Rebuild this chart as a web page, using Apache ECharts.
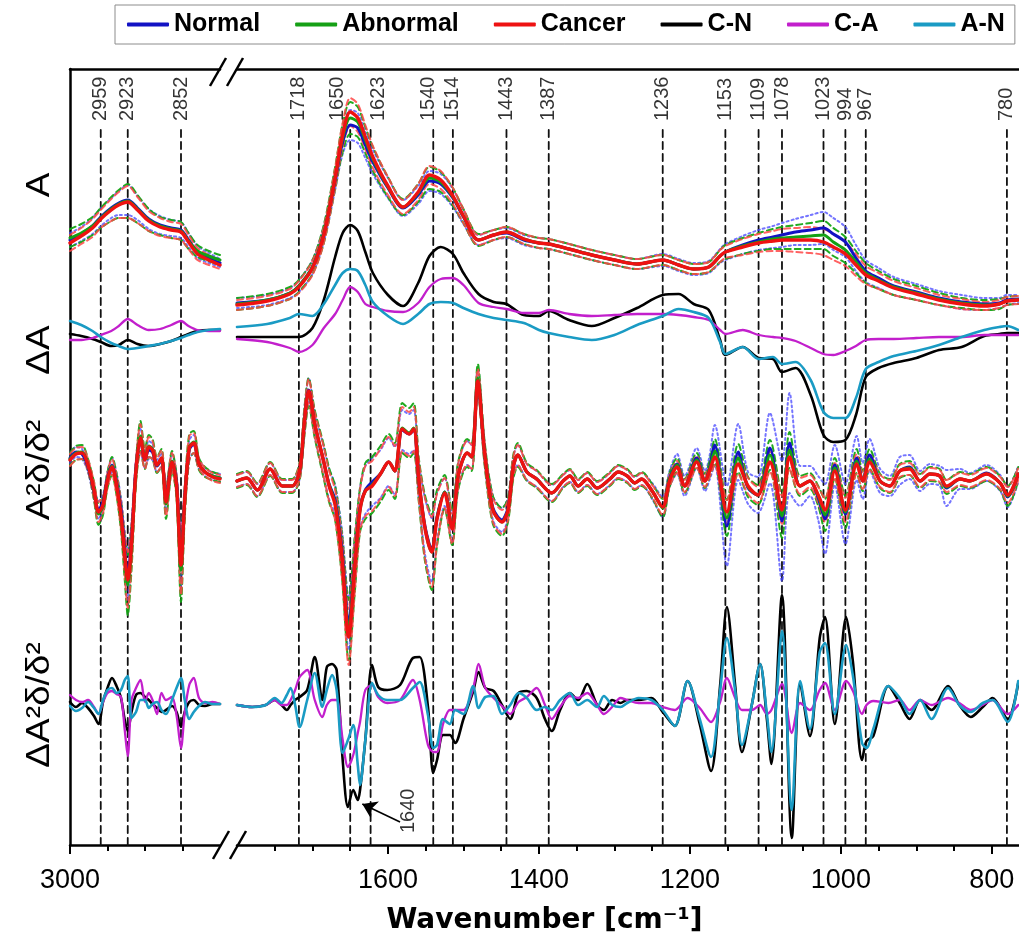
<!DOCTYPE html>
<html><head><meta charset="utf-8">
<script src="https://cdn.jsdelivr.net/npm/echarts@6/dist/echarts.min.js"></script>
<style>html,body{margin:0;padding:0;background:#fff}#c{width:1019px;height:942px}</style>
</head><body><div id="c"></div>
<script>
// ---------------- DATA (arbitrary intensity units, each panel relative to its own baseline) ----------------
const SERIES_NAMES = ['Normal', 'Abnormal', 'Cancer', 'C-N', 'C-A', 'A-N'];
const X_TICKS_LEFT = [3000];
const X_TICKS_RIGHT = [1600, 1400, 1200, 1000, 800];
const PEAKS_LEFT = [2959, 2923, 2852];
const PEAKS_RIGHT = [1718, 1650, 1623, 1540, 1514, 1443, 1387, 1236, 1153, 1109, 1078, 1023, 994, 967, 780];
const ANNOT_1640 = { label: 1640, textAt: [1573, -128], arrowFrom: [1584, -117], arrowTo: [1634, -99] }; // in ΔA²δ/δ² panel units

// Panel offsets (stacking of the four panels)
const OFFSET = { A: 545, dA: 505, D2: 375, dD2: 140 };

// ---- Absorbance (A) & difference (ΔA), high-wavenumber segment
const WN_A_LEFT = [3000, 2985, 2970, 2959, 2945, 2935, 2923, 2910, 2895, 2880, 2865, 2852, 2842, 2830, 2815, 2800];
const A_NORMAL_L   = [60, 66, 74, 83, 92, 97, 100, 92, 81, 75, 72, 70, 60, 48, 42, 37];
const A_ABNORMAL_L = [62, 67, 74, 82, 91, 96, 99, 91, 80, 74, 71, 69, 59, 49, 44, 40];
const A_CANCER_L   = [57, 64, 72, 81, 90, 95, 98, 90, 79, 73, 70, 68, 58, 46, 40, 35];
const SD_A_NORMAL_L   = [7, 7, 8, 9, 10, 12, 15, 12, 10, 9, 8, 8, 7, 6, 5, 4];
const SD_A_ABNORMAL_L = [9, 9, 9, 10, 12, 14, 17, 14, 11, 9, 9, 9, 8, 6, 5, 5];
const SD_A_CANCER_L   = [8, 8, 9, 9, 11, 13, 16, 13, 10, 9, 8, 8, 7, 6, 5, 4];
const DA_CN_L = [6, 4, 1, -2, -6, -5, 0, -4, -6, -4, -1, 3, 6, 9, 10, 10];
const DA_CA_L = [0, 0, 2, 5, 9, 14, 21, 15, 10, 11, 15, 19, 14, 10, 9, 9];
const DA_AN_L = [19, 15, 9, 3, -3, -6, -9, -8, -6, -4, -1, 2, 5, 8, 10, 11];

// ---- Absorbance (A) & difference (ΔA), fingerprint segment
const WN_A_RIGHT = [1800, 1760, 1730, 1718, 1700, 1685, 1670, 1660, 1650, 1640, 1630, 1620, 1600, 1580, 1560, 1545, 1530, 1514, 1500, 1480, 1460, 1443, 1420, 1400, 1387, 1360, 1330, 1300, 1270, 1236, 1215, 1195, 1175, 1160, 1153, 1130, 1109, 1090, 1078, 1060, 1040, 1023, 1010, 994, 980, 967, 950, 930, 900, 870, 840, 810, 790, 780, 765];
const A_NORMAL_R   = [-3, 0, 7, 14, 33, 66, 120, 158, 175, 172, 155, 138, 112, 92, 105, 119, 116, 102, 83, 60, 65, 67, 60, 57, 56, 51, 45, 40, 36, 40, 35, 31, 33, 44, 48, 55, 60, 63, 65, 68, 70, 72, 66, 58, 42, 29, 22, 14, 8, 2, -2, -4, -3, 0, 1];
const A_ABNORMAL_R = [-4, 0, 7, 14, 33, 66, 122, 162, 182, 178, 160, 141, 113, 93, 107, 122, 118, 103, 84, 60, 65, 68, 61, 57, 56, 51, 45, 40, 36, 40, 35, 31, 33, 44, 48, 54, 58, 61, 62, 63, 64, 65, 58, 50, 38, 27, 20, 13, 7, 1, -3, -5, -4, -1, 0];
const A_CANCER_R   = [-5, -1, 6, 13, 32, 65, 122, 165, 188, 182, 163, 143, 114, 93, 108, 125, 120, 104, 84, 60, 65, 68, 61, 57, 56, 51, 45, 40, 36, 40, 35, 31, 33, 44, 48, 53, 57, 59, 60, 60, 60, 58, 53, 46, 35, 25, 19, 12, 6, 0, -4, -6, -4, -1, 0];
const SD_A_NORMAL_R   = [5, 5, 5, 6, 7, 8, 10, 12, 15, 15, 13, 12, 10, 8, 9, 10, 10, 9, 7, 5, 5, 5, 5, 5, 5, 5, 5, 5, 5, 6, 6, 6, 6, 7, 8, 9, 10, 11, 12, 13, 15, 16, 16, 15, 13, 11, 10, 9, 8, 7, 7, 6, 5, 5, 4];
const SD_A_ABNORMAL_R = [6, 6, 6, 6, 7, 9, 11, 14, 16, 15, 13, 12, 10, 8, 9, 11, 10, 9, 7, 6, 5, 5, 5, 5, 5, 5, 5, 5, 5, 5, 5, 5, 5, 6, 7, 8, 9, 10, 11, 12, 13, 14, 14, 13, 11, 10, 9, 8, 7, 6, 5, 5, 5, 4, 4];
const SD_A_CANCER_R   = [5, 5, 5, 6, 7, 8, 10, 12, 14, 14, 12, 11, 9, 7, 8, 9, 9, 8, 7, 5, 5, 5, 5, 5, 5, 5, 5, 5, 5, 5, 5, 5, 5, 6, 6, 8, 9, 10, 11, 12, 13, 13, 13, 12, 11, 9, 8, 7, 6, 5, 5, 4, 4, 4, 4];
const DA_CN_R = [3, 3, 3, 3, 12, 40, 83, 107, 115, 109, 88, 67, 45, 34, 57, 84, 93, 86, 67, 46, 38, 36, 25, 24, 29, 20, 14, 22, 32, 45, 46, 36, 30, 0, -15, -7, -18, -19, -32, -28, -55, -95, -102, -100, -75, -37, -28, -23, -18, -10, -7, 4, 6, 7, 7];
const DA_CA_R = [1, -2, -8, -12, -5, 12, 26, 40, 53, 48, 36, 33, 29, 28, 37, 53, 61, 62, 55, 37, 33, 31, 27, 27, 30, 26, 24, 25, 26, 26, 25, 23, 20, 10, 6, 10, 5, 3, 2, -1, -8, -14, -15, -11, -6, 0, 1, 1, 2, 3, 3, 5, 5, 5, 5];
const DA_AN_R = [13, 16, 22, 26, 24, 36, 55, 67, 71, 69, 55, 38, 24, 16, 26, 36, 38, 37, 32, 26, 22, 20, 17, 10, 7, 3, 0, 5, 15, 24, 31, 28, 22, -2, -14, -7, -19, -17, -24, -22, -40, -72, -78, -78, -58, -29, -22, -16, -11, -5, 3, 10, 13, 14, 10];

// ---- Second derivative (A²δ/δ²) & its differences, high-wavenumber segment
const WN_D2_LEFT = [3000, 2992, 2984, 2976, 2968, 2962, 2956, 2950, 2944, 2938, 2932, 2927, 2923, 2918, 2912, 2906, 2900, 2895, 2890, 2884, 2878, 2872, 2864, 2858, 2852, 2847, 2841, 2835, 2828, 2820, 2810, 2800];
const D2_NORMAL_L   = [12, 18, 16, 3, -22, -40, -32, -8, 5, -12, -40, -80, -105, -70, 2, 30, 10, 20, 18, 4, 10, -28, 8, -12, -90, -28, 20, 26, 6, -2, -6, -8];
const D2_ABNORMAL_L = [11, 17, 18, 5, -21, -44, -36, -10, 4, -14, -46, -88, -115, -78, -2, 34, 11, 24, 21, 5, 12, -34, 9, -16, -100, -32, 23, 28, 6, -2, -6, -8];
const D2_CANCER_L   = [10, 16, 17, 5, -20, -42, -35, -10, 3, -15, -45, -85, -110, -75, 0, 32, 10, 23, 20, 5, 12, -32, 8, -15, -95, -30, 22, 27, 6, -2, -7, -9];
const SD_D2_NORMAL_L   = [5, 5, 5, 5, 7, 9, 7, 6, 7, 9, 12, 18, 25, 18, 9, 12, 8, 9, 8, 6, 7, 12, 8, 9, 27, 12, 10, 9, 5, 4, 4, 4];
const SD_D2_ABNORMAL_L = [6, 7, 7, 6, 9, 11, 9, 8, 9, 11, 15, 22, 30, 22, 11, 15, 10, 11, 10, 8, 9, 15, 10, 11, 32, 15, 13, 11, 6, 5, 4, 4];
const SD_D2_CANCER_L   = [6, 6, 6, 6, 8, 10, 8, 7, 8, 10, 14, 20, 28, 20, 10, 14, 9, 10, 9, 7, 8, 14, 9, 10, 30, 14, 12, 10, 5, 4, 4, 4];
const DD2_CN_L = [3, -2, 2, -3, -11, -19, 3, 17, 27, 19, 7, -15, -26, -7, 10, 12, 8, 5, 1, -3, -7, -5, -1, -7, -22, -7, 3, 5, 0, -1, 1, 1];
const DD2_CA_L = [10, 5, 3, 5, -2, -9, 3, 12, 14, 11, 8, -25, -51, 5, 17, 25, 3, 12, 5, -9, 12, 5, 8, -10, -43, -7, 20, 27, 7, 2, 3, 1];
const DD2_AN_L = [-1, -6, -3, 3, -3, -9, 5, 15, 17, 12, 15, 25, 29, -13, -7, 5, 5, -3, 1, 3, -5, -9, 5, 17, 27, 5, -14, -7, -1, 3, 1, 1];

// ---- Second derivative (A²δ/δ²), fingerprint segment
const WN_D2_RIGHT = [1800, 1787, 1773, 1756, 1740, 1727, 1717, 1711, 1705, 1697,
  1685, 1678, 1670, 1661, 1652, 1644, 1637, 1630, 1621, 1610,
  1599, 1591, 1581, 1572, 1566, 1559, 1551, 1542, 1535, 1525,
  1515, 1507, 1495, 1489, 1481, 1472, 1461, 1449, 1441, 1434,
  1428, 1416, 1403, 1383, 1368, 1359, 1348, 1336, 1323, 1306,
  1295, 1283, 1273, 1264, 1250, 1236, 1227, 1217, 1207, 1191,
  1180, 1174, 1167, 1151, 1136, 1123, 1110, 1094, 1078, 1068,
  1054, 1041, 1030, 1021, 1008, 994, 979, 971, 962, 948,
  935, 922, 909, 895, 882, 869, 860, 842, 829, 807,
  789, 779, 765];
const D2_NORMAL_R = [-11, -8, -20, 1, -16, -16, -1, 46, 80, 46,
  8, -14, -30, -80, -154, -92, -38, -20, -12, -4,
  8, -1, 40, 36, 40, -11, -56, -80, -47, -22,
  -57, -6, 17, 13, 90, 17, -38, -50, -38, 3,
  15, -2, -9, -23, -11, -6, -16, -9, -18, -9,
  -2, -6, -13, -9, -21, -37, -9, 6, -16, 12,
  -11, 2, 25, -56, 18, -18, -25, 22, -51, 27,
  -16, -11, -28, -49, 5, -44, 12, -11, 15, -11,
  -16, -1, 3, -11, -4, -6, -18, -9, -11, -3,
  -13, -27, -4];
const D2_ABNORMAL_R = [-11, -8, -20, 1, -16, -16, -1, 46, 78, 46,
  8, -15, -33, -85, -160, -95, -40, -21, -15, -4,
  8, -1, 42, 37, 42, -11, -58, -82, -48, -22,
  -58, -6, 17, 13, 92, 17, -40, -52, -40, 3,
  15, -2, -9, -23, -11, -6, -16, -9, -18, -9,
  -2, -6, -13, -9, -21, -38, -10, 5, -16, 10,
  -11, 1, 19, -48, 12, -17, -25, 15, -46, 20,
  -16, -11, -26, -45, 2, -42, 9, -11, 11, -11,
  -16, -1, 2, -11, -4, -6, -17, -9, -11, -4,
  -13, -26, -4];
const D2_CANCER_R = [-11, -8, -20, 1, -16, -16, -1, 46, 79, 46,
  8, -16, -35, -87, -167, -97, -40, -21, -16, -4,
  8, -1, 41, 36, 41, -11, -58, -82, -49, -23,
  -59, -6, 17, 13, 89, 17, -40, -52, -40, 3,
  15, -2, -9, -23, -11, -6, -16, -9, -18, -9,
  -2, -6, -13, -9, -21, -37, -11, 3, -16, 8,
  -11, -1, 13, -42, 6, -16, -25, 8, -40, 13,
  -16, -11, -25, -40, -1, -40, 6, -11, 8, -11,
  -16, -1, 1, -11, -4, -6, -16, -9, -11, -4,
  -13, -25, -4];
const SD_D2_NORMAL_R = [6, 6, 6, 6, 6, 6, 8, 12, 12, 12,
  15, 15, 15, 20, 26, 24, 20, 24, 24, 24,
  24, 24, 20, 20, 20, 18, 28, 32, 24, 14,
  14, 12, 12, 12, 12, 10, 12, 12, 10, 10,
  10, 8, 8, 8, 6, 6, 6, 6, 6, 6,
  6, 6, 6, 6, 8, 10, 8, 10, 10, 10,
  10, 12, 20, 40, 28, 16, 18, 35, 60, 50,
  20, 15, 22, 35, 20, 30, 22, 18, 16, 12,
  10, 14, 12, 10, 10, 10, 18, 10, 8, 8,
  8, 10, 8];
const SD_D2_ABNORMAL_R = [7, 7, 7, 7, 7, 7, 9, 14, 14, 14,
  17, 17, 17, 22, 30, 28, 22, 28, 28, 28,
  28, 28, 25, 25, 25, 22, 33, 38, 28, 17,
  17, 14, 14, 14, 14, 12, 14, 14, 12, 12,
  12, 9, 9, 9, 7, 7, 7, 7, 7, 7,
  7, 7, 7, 7, 7, 9, 7, 7, 7, 7,
  7, 8, 12, 18, 14, 10, 10, 15, 22, 18,
  10, 8, 10, 16, 10, 16, 12, 10, 10, 7,
  7, 7, 7, 7, 7, 7, 7, 7, 7, 7,
  7, 10, 7];
const SD_D2_CANCER_R = [6, 6, 6, 6, 6, 6, 8, 12, 12, 12,
  15, 15, 15, 20, 28, 25, 20, 25, 25, 25,
  25, 25, 22, 22, 22, 20, 30, 35, 25, 15,
  15, 12, 12, 12, 12, 10, 12, 12, 10, 10,
  10, 8, 8, 8, 6, 6, 6, 6, 6, 6,
  6, 6, 6, 6, 6, 8, 6, 6, 6, 6,
  6, 6, 8, 12, 10, 8, 8, 10, 14, 12,
  8, 6, 8, 12, 8, 12, 10, 8, 8, 6,
  6, 6, 6, 6, 6, 6, 6, 6, 6, 6,
  6, 8, 6];

// ---- Differences of second derivative (ΔA²δ/δ²), fingerprint segment
const WN_DD2_RIGHT = [1800, 1780, 1762, 1750, 1741, 1734, 1729, 1723, 1717, 1707,
  1697, 1687, 1681, 1674, 1668, 1660, 1653, 1646, 1640, 1637,
  1630, 1621, 1613, 1601, 1584, 1567, 1558, 1547, 1540, 1535,
  1527, 1518, 1511, 1500, 1487, 1480, 1471, 1460, 1449, 1438,
  1427, 1416, 1403, 1392, 1383, 1372, 1359, 1348, 1336, 1323,
  1314, 1303, 1292, 1283, 1268, 1251, 1236, 1220, 1203, 1187,
  1172, 1160, 1151, 1140, 1131, 1118, 1107, 1098, 1092, 1078,
  1065, 1054, 1041, 1028, 1021, 1008, 993, 984, 972, 966,
  957, 937, 922, 909, 895, 880, 858, 843, 828, 812,
  799, 779, 765];
const DD2_CN_R = [0, -2, 0, 5, 0, -5, 0, 5, 8, 15,
  48, 5, 38, 41, 35, -55, -102, -85, -95, -85,
  -35, 40, 18, 15, 20, 47, 48, -2, -68, -55,
  -30, -30, -38, -14, 14, 33, 17, 14, 0, -14,
  12, 14, 7, -14, -26, -5, 12, 5, 21, 0,
  -5, 5, 2, 5, 5, 7, -7, -21, 24, -19,
  -66, 19, 98, 19, -47, 0, 41, -14, -59, 110,
  -133, 22, -31, 67, 88, -19, 88, 43, -55, -36,
  -31, 19, 2, -14, 5, -5, 19, 0, -12, -2,
  7, -14, 22];
const DD2_CA_R = [0, -2, 0, 5, 0, 0, 5, 15, 28, 35,
  5, -12, 0, 5, 5, -35, -62, -50, -28, -17,
  15, 20, 8, 2, 5, 25, 5, -40, -47, -47,
  -19, -5, -5, -5, 17, 41, 17, 7, -1, -9,
  3, 8, 17, 0, -14, -2, 9, 7, 12, 0,
  -9, -2, 7, 5, 2, 2, -2, -5, 7, -3,
  -17, 3, 27, 7, -5, -5, 0, -9, -5, 21,
  -28, 2, -5, 15, 22, -5, 24, 14, -9, 0,
  4, 2, 5, -5, 5, 0, 7, 2, -5, 0,
  5, -9, 0];
const DD2_AN_R = [0, -2, 0, 7, 2, 10, 17, 0, -22, 5,
  32, -2, 15, 30, 15, -48, -35, -20, -60, -80,
  -35, 22, 10, 5, 5, 17, 23, -10, -43, -40,
  -14, -19, -5, -9, 19, -3, 8, 9, -9, 0,
  12, 7, -5, -2, -5, 5, 12, 0, 5, -2,
  9, 0, -2, 2, 7, 5, -5, -21, 24, -14,
  -52, 14, 67, 14, -40, 0, 41, -9, -47, 74,
  -105, 24, -24, 53, 62, -9, 60, 29, -38, -43,
  -24, 19, 7, -9, 5, -14, 17, 0, -7, 2,
  5, -17, 24];

// ---------------- STYLE / LAYOUT ----------------
const FONT = '"Liberation Sans", Arial, Helvetica, sans-serif';
const COLORS = { 'Normal': '#1212c4', 'Abnormal': '#15a015', 'Cancer': '#ee1212', 'C-N': '#000000', 'C-A': '#c21fcc', 'A-N': '#1a9bc4' };
const BAND = {
  'Normal':   { color: 'rgba(70,70,255,0.75)', type: [2, 3] },
  'Abnormal': { color: 'rgba(20,165,20,0.95)', type: [6, 4] },
  'Cancer':   { color: 'rgba(255,70,70,0.85)', type: [6, 4] }
};
const LABEL_NUDGE = { 1650: -13, 1623: 8, 1540: -5 }; // horizontal nudges (px) of a few crowded peak labels
const Y_MAX = 776;        // plot height in value units
const LABEL_BASE = 724;   // bottom of rotated peak labels
const DASH_TOP = 719;     // top of dashed peak lines

const chart = echarts.init(document.getElementById('c'), null, { renderer: 'canvas' });

const pts = (wn, v, off) => wn.map((w, i) => [-w, v[i] + off]);
const band = (wn, v, sd, off, s) => wn.map((w, i) => [-w, v[i] + s * sd[i] + off]);

const series = [];
function line(name, data, seg, color, width, z, type, smooth) {
  series.push({
    name, type: 'line', xAxisIndex: seg === 'L' ? 0 : 3, yAxisIndex: seg === 'L' ? 0 : 1,
    data, smooth: smooth == null ? 0.3 : smooth, showSymbol: false, symbol: 'none', silent: true, z,
    lineStyle: { color, width, type: type || 'solid', cap: 'round', join: 'round' },
    itemStyle: { color }, emphasis: { disabled: true }, animation: false
  });
}

// SD bands (drawn first)
const groups = [
  ['Normal', A_NORMAL_L, SD_A_NORMAL_L, A_NORMAL_R, SD_A_NORMAL_R, D2_NORMAL_L, SD_D2_NORMAL_L, D2_NORMAL_R, SD_D2_NORMAL_R],
  ['Abnormal', A_ABNORMAL_L, SD_A_ABNORMAL_L, A_ABNORMAL_R, SD_A_ABNORMAL_R, D2_ABNORMAL_L, SD_D2_ABNORMAL_L, D2_ABNORMAL_R, SD_D2_ABNORMAL_R],
  ['Cancer', A_CANCER_L, SD_A_CANCER_L, A_CANCER_R, SD_A_CANCER_R, D2_CANCER_L, SD_D2_CANCER_L, D2_CANCER_R, SD_D2_CANCER_R]
];
groups.forEach(([g, aL, sdAL, aR, sdAR, dL, sdDL, dR, sdDR], gi) => {
  const b = BAND[g];
  [1, -1].forEach(s => {
    line(g + ' SD', band(WN_A_LEFT, aL, sdAL, OFFSET.A, s), 'L', b.color, 2, 2 + gi * 0.1, b.type);
    line(g + ' SD', band(WN_A_RIGHT, aR, sdAR, OFFSET.A, s), 'R', b.color, 2, 2 + gi * 0.1, b.type);
    line(g + ' SD', band(WN_D2_LEFT, dL, sdDL, OFFSET.D2, s), 'L', b.color, 2, 2 + gi * 0.1, b.type);
    line(g + ' SD', band(WN_D2_RIGHT, dR, sdDR, OFFSET.D2, s), 'R', b.color, 2, 2 + gi * 0.1, b.type);
  });
});
// Mean spectra
groups.forEach(([g, aL, sdAL, aR, sdAR, dL, sdDL, dR, sdDR], gi) => {
  const w = g === 'Cancer' ? 3.4 : 3;
  line(g, pts(WN_A_LEFT, aL, OFFSET.A), 'L', COLORS[g], w, 5 + gi);
  line(g, pts(WN_A_RIGHT, aR, OFFSET.A), 'R', COLORS[g], w, 5 + gi);
  line(g, pts(WN_D2_LEFT, dL, OFFSET.D2), 'L', COLORS[g], w, 5 + gi);
  line(g, pts(WN_D2_RIGHT, dR, OFFSET.D2), 'R', COLORS[g], w, 5 + gi);
});
// Difference spectra
[['C-N', DA_CN_L, DA_CN_R, DD2_CN_L, DD2_CN_R, 2.6],
 ['C-A', DA_CA_L, DA_CA_R, DD2_CA_L, DD2_CA_R, 2.3],
 ['A-N', DA_AN_L, DA_AN_R, DD2_AN_L, DD2_AN_R, 2.6]].forEach(([g, aL, aR, dL, dR, w], gi) => {
  line(g, pts(WN_A_LEFT, aL, OFFSET.dA), 'L', COLORS[g], w, 5 + gi);
  line(g, pts(WN_A_RIGHT, aR, OFFSET.dA), 'R', COLORS[g], w, 5 + gi);
  line(g, pts(WN_D2_LEFT, dL, OFFSET.dD2), 'L', COLORS[g], w, 5 + gi);
  line(g, pts(WN_DD2_RIGHT, dR, OFFSET.dD2), 'R', COLORS[g], w, 5 + gi);
});

// Dashed peak markers + rotated labels (label offset is in the rotated frame: 2nd component = screen x)
function peakMarks(peaks, seg) {
  peaks.forEach(p => line('peak', [[-p, 0], [-p, DASH_TOP]], seg, '#111', 1.8, 1, [7, 5], false));
  series.push({
    type: 'scatter', xAxisIndex: seg === 'L' ? 0 : 3, yAxisIndex: seg === 'L' ? 0 : 1, silent: true, z: 10,
    data: peaks.map(p => ({ value: [-p, LABEL_BASE], label: { offset: [0, LABEL_NUDGE[p] || 0] } })),
    symbolSize: 1, itemStyle: { color: 'rgba(0,0,0,0)' }, animation: false,
    label: { show: true, position: 'inside', rotate: 90, align: 'left', verticalAlign: 'middle',
      formatter: q => String(-q.value[0]), fontSize: 20, fontFamily: FONT, color: '#000' }
  });
}
peakMarks(PEAKS_LEFT, 'L');
peakMarks(PEAKS_RIGHT, 'R');

// 1640 annotation with arrow
series.push({
  type: 'scatter', xAxisIndex: 3, yAxisIndex: 1, silent: true, z: 10, animation: false,
  data: [[-ANNOT_1640.textAt[0], ANNOT_1640.textAt[1] + OFFSET.dD2]], symbolSize: 1, itemStyle: { color: 'rgba(0,0,0,0)' },
  label: { show: true, position: 'inside', rotate: 90, align: 'left', verticalAlign: 'middle',
    formatter: String(ANNOT_1640.label), fontSize: 20, fontFamily: FONT, color: '#000' },
  markLine: { silent: true, animation: false, symbol: ['none', 'arrow'], symbolSize: 14,
    label: { show: false }, lineStyle: { color: '#000', width: 1.6, type: 'solid' },
    data: [[{ coord: [-ANNOT_1640.arrowFrom[0], ANNOT_1640.arrowFrom[1] + OFFSET.dD2] },
            { coord: [-ANNOT_1640.arrowTo[0], ANNOT_1640.arrowTo[1] + OFFSET.dD2] }]] }
});

const axisLineStyle = { color: '#000', width: 2.5 };
const fmt = v => String(-v);
function majorAxis(grid, min, max, ticks) {
  return { type: 'value', gridIndex: grid, min, max, position: 'bottom',
    axisLine: { show: true, onZero: false, lineStyle: axisLineStyle },
    axisTick: { show: true, length: 9, lineStyle: { color: '#000', width: 2 }, customValues: ticks.map(t => -t) },
    axisLabel: { show: true, customValues: ticks.map(t => -t), formatter: fmt, fontSize: 27, fontFamily: FONT, color: '#000', margin: 22 },
    splitLine: { show: false } };
}
function minorAxis(grid, min, max, ticks) {
  return { type: 'value', gridIndex: grid, min, max, position: 'bottom',
    axisLine: { show: false },
    axisTick: { show: true, length: 6, lineStyle: { color: '#000', width: 2 }, customValues: ticks.map(t => -t) },
    axisLabel: { show: false }, splitLine: { show: false } };
}
function topAxis(grid, min, max) {
  return { type: 'value', gridIndex: grid, min, max, position: 'top',
    axisLine: { show: true, onZero: false, lineStyle: axisLineStyle }, axisTick: { show: false }, axisLabel: { show: false }, splitLine: { show: false } };
}
const minorRight = [];
for (let w = 1750; w >= 800; w -= 50) if (X_TICKS_RIGHT.indexOf(w) < 0) minorRight.push(w);

const option = {
  animation: false,
  backgroundColor: '#fff',
  legend: {
    data: SERIES_NAMES, top: 5, left: 115, icon: 'roundRect', itemWidth: 42, itemHeight: 4, itemGap: 35,
    padding: [7, 10, 7, 12], borderColor: '#8c8c8c', borderWidth: 1, selectedMode: false,
    textStyle: { fontSize: 25, fontWeight: 'bold', fontFamily: FONT, color: '#000' }
  },
  grid: [
    { left: 70, top: 69, width: 150, height: Y_MAX },
    { left: 237, top: 69, width: 782, height: Y_MAX }
  ],
  xAxis: [
    majorAxis(0, -3000, -2800, X_TICKS_LEFT),
    minorAxis(0, -3000, -2800, [2950, 2900, 2850]),
    topAxis(0, -3000, -2800),
    majorAxis(1, -1800, -764, X_TICKS_RIGHT),
    minorAxis(1, -1800, -764, minorRight),
    topAxis(1, -1800, -764)
  ],
  yAxis: [
    { type: 'value', gridIndex: 0, min: 0, max: Y_MAX, axisLine: { show: true, onZero: false, lineStyle: axisLineStyle },
      axisTick: { show: false }, axisLabel: { show: false }, splitLine: { show: false } },
    { type: 'value', gridIndex: 1, min: 0, max: Y_MAX, show: false }
  ],
  series
};
chart.setOption(option);

// Decorations: axis-break marks, panel labels, axis title
const xL = chart.convertToPixel({ xAxisIndex: 0 }, -2800);
const xR = chart.convertToPixel({ xAxisIndex: 3 }, -1800);
const yB = chart.convertToPixel({ yAxisIndex: 0 }, 0);
const yT = chart.convertToPixel({ yAxisIndex: 0 }, Y_MAX);
const deco = [];
[[xL + 1, yB], [xR + 1, yB], [xL - 2, yT + 3], [xR - 2, yT + 3]].forEach(([cx, cy]) => {
  deco.push({ type: 'line', silent: true, z: 20, shape: { x1: cx - 8, y1: cy + 14, x2: cx + 8, y2: cy - 14 }, style: { stroke: '#000', lineWidth: 2.5 } });
});
const panelLabels = [['A', OFFSET.A + 115], ['ΔA', OFFSET.dA - 10], ['A²δ/δ²', OFFSET.D2], ['ΔA²δ/δ²', OFFSET.dD2]];
panelLabels.forEach(([t, v]) => {
  deco.push({ type: 'text', silent: true, x: 40, y: chart.convertToPixel({ yAxisIndex: 0 }, v), rotation: Math.PI / 2, scaleX: 1.12,
    style: { text: t, fontSize: 33, fontFamily: FONT, fill: '#000', align: 'center', verticalAlign: 'middle' } });
});
deco.push({ type: 'text', silent: true, x: (chart.convertToPixel({ xAxisIndex: 0 }, -3000) + chart.convertToPixel({ xAxisIndex: 3 }, -764)) / 2, y: 921,
  style: { text: 'Wavenumber [cm⁻¹]', fontSize: 28, fontWeight: 'bold', fontFamily: '"DejaVu Sans", sans-serif', fill: '#000', align: 'center', verticalAlign: 'middle' } });
chart.setOption({ graphic: deco });
</script></body></html>
